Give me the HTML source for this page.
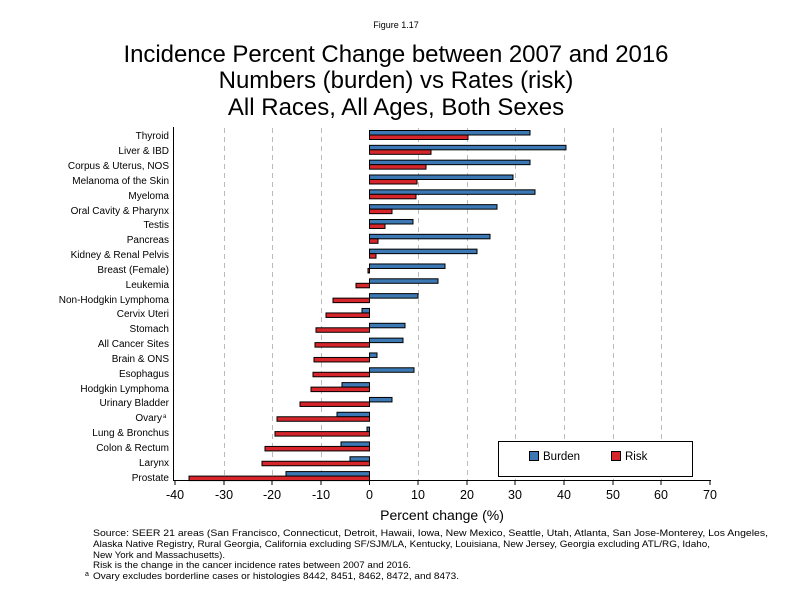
<!DOCTYPE html>
<html><head><meta charset="utf-8"><style>
html,body{margin:0;padding:0;background:#fff;}
svg{display:block;font-family:"Liberation Sans",Arial,sans-serif;}
</style></head><body>
<svg id="s" width="792" height="612" viewBox="0 0 792 612" xmlns="http://www.w3.org/2000/svg">
<rect width="792" height="612" fill="#fff"/>
<text x="396" y="28" font-size="9" text-anchor="middle">Figure 1.17</text>
<text x="396" y="62" font-size="24" text-anchor="middle" textLength="545">Incidence Percent Change between 2007 and 2016</text>
<text x="396" y="88" font-size="24" text-anchor="middle">Numbers (burden) vs Rates (risk)</text>
<text x="396" y="115" font-size="24" text-anchor="middle">All Races, All Ages, Both Sexes</text>
<g id="grid" stroke="#bbb" stroke-dasharray="5,4" stroke-width="1"></g>
<g id="bars" stroke="#000" stroke-width="1"></g>
<line x1="173.5" y1="127" x2="173.5" y2="481" stroke="#000"/>
<line x1="173" y1="480.5" x2="711" y2="480.5" stroke="#000"/>
<g id="ticks" stroke="#000"></g>
<g font-size="12.5" text-anchor="middle">
<text x="175" y="499">-40</text><text x="224" y="499">-30</text><text x="272" y="499">-20</text><text x="321" y="499">-10</text><text x="369.5" y="499">0</text><text x="418" y="499">10</text><text x="467" y="499">20</text><text x="515" y="499">30</text><text x="564" y="499">40</text><text x="613" y="499">50</text><text x="661" y="499">60</text><text x="710" y="499">70</text>
</g>
<text x="442" y="520" font-size="14" text-anchor="middle">Percent change (%)</text>
<g font-size="10" text-anchor="end">
<text x="169" y="139">Thyroid</text>
<text x="169" y="154">Liver &amp; IBD</text>
<text x="169" y="169">Corpus &amp; Uterus, NOS</text>
<text x="169" y="184">Melanoma of the Skin</text>
<text x="169" y="199">Myeloma</text>
<text x="169" y="214">Oral Cavity &amp; Pharynx</text>
<text x="169" y="228">Testis</text>
<text x="169" y="243">Pancreas</text>
<text x="169" y="258">Kidney &amp; Renal Pelvis</text>
<text x="169" y="273">Breast (Female)</text>
<text x="169" y="288">Leukemia</text>
<text x="169" y="303">Non-Hodgkin Lymphoma</text>
<text x="169" y="317">Cervix Uteri</text>
<text x="169" y="332">Stomach</text>
<text x="169" y="347">All Cancer Sites</text>
<text x="169" y="362">Brain &amp; ONS</text>
<text x="169" y="377">Esophagus</text>
<text x="169" y="392">Hodgkin Lymphoma</text>
<text x="169" y="406">Urinary Bladder</text>
<text x="162" y="421">Ovary</text><text x="163" y="418" font-size="6" text-anchor="start">a</text>
<text x="169" y="436">Lung &amp; Bronchus</text>
<text x="169" y="451">Colon &amp; Rectum</text>
<text x="169" y="466">Larynx</text>
<text x="169" y="481">Prostate</text>
</g>
<rect x="498.5" y="441.5" width="194" height="35" fill="#fff" stroke="#000"/>
<rect x="529.5" y="451.5" width="9" height="9" fill="#3b78b4" stroke="#000"/>
<text x="543" y="460" font-size="11.5">Burden</text>
<rect x="611.5" y="451.5" width="9" height="9" fill="#d7262b" stroke="#000"/>
<text x="625" y="460" font-size="11.5">Risk</text>
<g font-size="9.5">
<text x="93" y="536" textLength="675" lengthAdjust="spacingAndGlyphs">Source: SEER 21 areas (San Francisco, Connecticut, Detroit, Hawaii, Iowa, New Mexico, Seattle, Utah, Atlanta, San Jose-Monterey, Los Angeles,</text>
<text x="93" y="547" textLength="617" lengthAdjust="spacingAndGlyphs">Alaska Native Registry, Rural Georgia, California excluding SF/SJM/LA, Kentucky, Louisiana, New Jersey, Georgia excluding ATL/RG, Idaho,</text>
<text x="93" y="558" textLength="132" lengthAdjust="spacingAndGlyphs">New York and Massachusetts).</text>
<text x="93" y="568" textLength="318" lengthAdjust="spacingAndGlyphs">Risk is the change in the cancer incidence rates between 2007 and 2016.</text>
<text x="93" y="579" textLength="366" lengthAdjust="spacingAndGlyphs">Ovary excludes borderline cases or histologies 8442, 8451, 8462, 8472, and 8473.</text>
<text x="85" y="576" font-size="7">a</text>
</g>
<script>
(function(){
var ns="http://www.w3.org/2000/svg";
function el(p,t,a){var e=document.createElementNS(ns,t);for(var k in a)e.setAttribute(k,a[k]);document.getElementById(p).appendChild(e);}
var xs=[224,272,321,418,467,515,564,613,661];
xs.forEach(function(x){el("grid","line",{x1:x+.5,y1:128,x2:x+.5,y2:480});});
[175,224,272,321,369.5,418,467,515,564,613,661,710].forEach(function(x){el("ticks","line",{x1:x,y1:480,x2:x,y2:485});});
var d=[[530,468],[566,431],[530,426],[513,417],[535,416],[497,392],[413,385],[490,378],[477,376],[445,368],[438,356],[418,333],[362,326],[405,316],[403,315],[377,314],[414,313],[342,311],[392,300],[337,277],[367,275],[341,265],[350,262],[286,189]];
var z=369.5;
d.forEach(function(v,i){var c=135+i*14.83;
var b=v[0],r=v[1];
el("bars","rect",{x:Math.min(z,b),y:c-4.5,width:Math.abs(b-z),height:4.5,fill:"#3b78b4"});
el("bars","rect",{x:Math.min(z,r),y:c,width:Math.abs(r-z),height:4.5,fill:"#d7262b"});
});
})();
</script>
</svg>
</body></html>
